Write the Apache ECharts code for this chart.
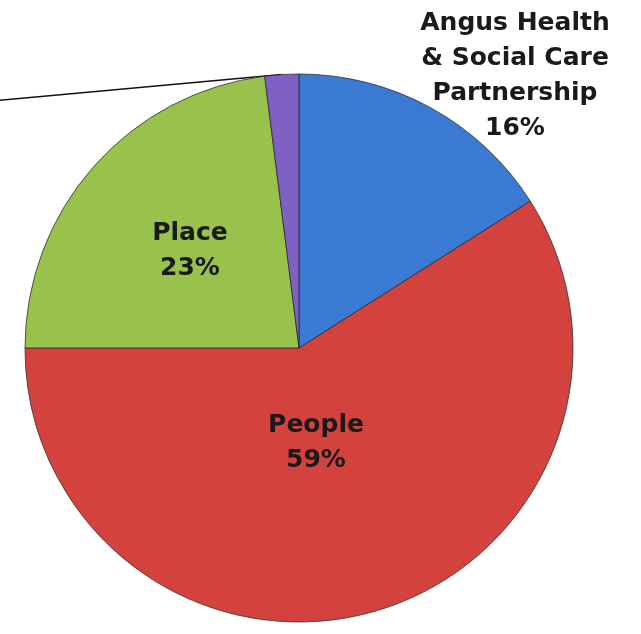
<!DOCTYPE html>
<html>
<head>
<meta charset="utf-8">
<script src="https://cdn.jsdelivr.net/npm/echarts@6/dist/echarts.min.js"></script>
<style>
  html, body { margin: 0; padding: 0; background: #ffffff; }
  #chart { width: 641px; height: 634px; }
</style>
</head>
<body>
<div id="chart"></div>
<script>
// Budget share by priority area (percent)
const categories = ['Angus Health\n& Social Care\nPartnership', 'People', 'Place', 'Economy'];
const values = [16, 59, 23, 2];
const colors = ['#3a7ad2', '#d4423e', '#98c24c', '#8060c2'];

// Where each slice label sits
const labelPlacement = [
  { position: 'outside', x: 515, y: 76, showLine: false },
  { position: 'inside', x: 316, y: 443, showLine: false },
  { position: 'inside', x: 190, y: 251, showLine: false },
  { position: 'outside', x: -20, y: 102, showLine: true, align: 'right' }
];

const chart = echarts.init(document.getElementById('chart'), null, { renderer: 'canvas' });

const data = categories.map((name, i) => ({
  name: name,
  value: values[i],
  itemStyle: { color: colors[i] },
  label: { position: labelPlacement[i].position },
  labelLine: { show: labelPlacement[i].showLine }
}));

chart.setOption({
  backgroundColor: '#ffffff',
  animation: false,
  series: [{
    type: 'pie',
    center: [299, 348],
    radius: 274,
    startAngle: 90,
    clockwise: true,
    percentPrecision: 0,
    avoidLabelOverlap: false,
    data: data,
    itemStyle: {
      borderColor: 'rgba(40,40,40,0.75)',
      borderWidth: 1
    },
    label: {
      show: true,
      formatter: '{b}\n{d}%',
      fontFamily: 'DejaVu Sans',
      fontWeight: 'bold',
      fontSize: 25,
      lineHeight: 35,
      color: '#1a1a1a',
      align: 'center',
      verticalAlign: 'middle'
    },
    labelLine: {
      length: 0,
      length2: 0,
      smooth: false,
      lineStyle: { color: '#111111', width: 1.5 }
    },
    labelLayout: function (params) {
      const p = labelPlacement[params.dataIndex];
      return {
        x: p.x,
        y: p.y,
        align: p.align || 'center',
        verticalAlign: 'middle'
      };
    }
  }]
});
</script>
</body>
</html>
